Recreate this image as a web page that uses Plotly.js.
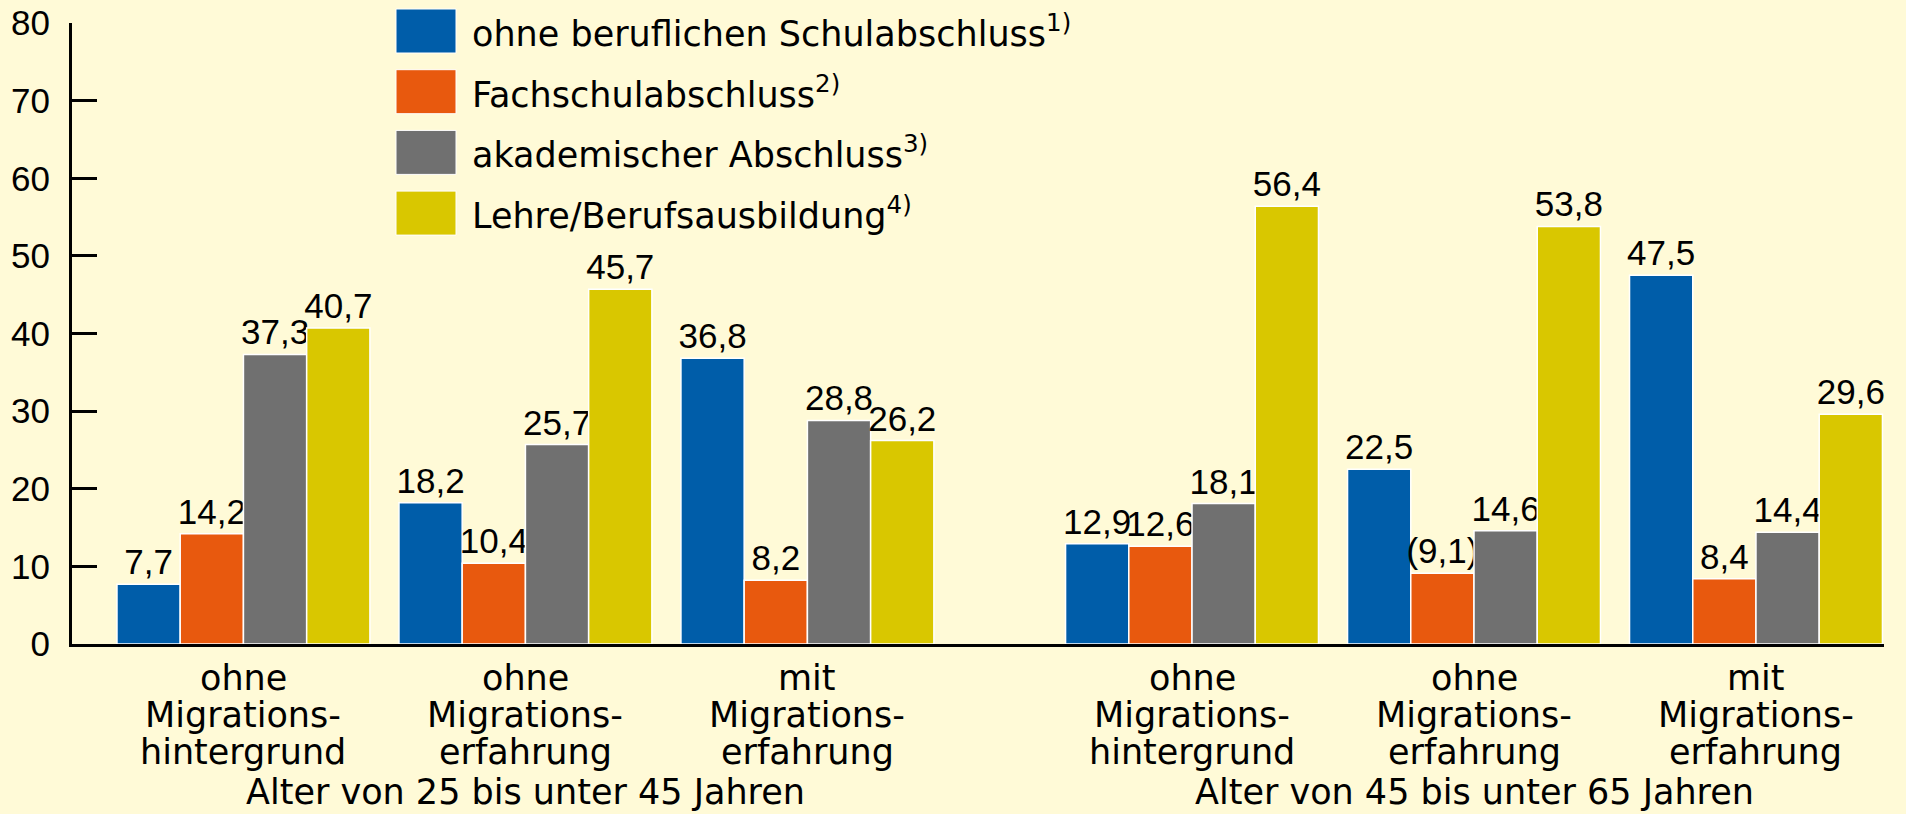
<!DOCTYPE html>
<html>
<head>
<meta charset="utf-8">
<script src="https://cdn.plot.ly/plotly-3.0.1.min.js"></script>
<style>
  html, body { margin: 0; padding: 0; background: #fffad7; }
  #chart { width: 1906px; height: 814px; }
</style>
</head>
<body>
<div id="chart"></div>
<script>
// ---------- data ----------
const categories = ["ohne Migrationshintergrund", "ohne Migrationserfahrung", "mit Migrationserfahrung"];
const categoryLines = [
  ["ohne", "Migrations-", "hintergrund"],
  ["ohne", "Migrations-", "erfahrung"],
  ["mit", "Migrations-", "erfahrung"]
];
const ageGroups = ["Alter von 25 bis unter 45 Jahren", "Alter von 45 bis unter 65 Jahren"];

const seriesNames = ["ohne beruflichen Schulabschluss", "Fachschulabschluss", "akademischer Abschluss", "Lehre/Berufsausbildung"];
const footnotes = ["1)", "2)", "3)", "4)"];
const seriesColors = ["#005da9", "#e8590e", "#707070", "#d9c700"];

const ohneBeruf_25_45   = [7.7, 18.2, 36.8];
const ohneBeruf_45_65   = [12.9, 22.5, 47.5];
const fachschul_25_45   = [14.2, 10.4, 8.2];
const fachschul_45_65   = [12.6, 9.1, 8.4];
const akademisch_25_45  = [37.3, 25.7, 28.8];
const akademisch_45_65  = [18.1, 14.6, 14.4];
const lehre_25_45       = [40.7, 45.7, 26.2];
const lehre_45_65       = [56.4, 53.8, 29.6];
// values shown in parentheses (limited reliability)
const fachschul_45_65_uncertain = [false, true, false];

const yTicks = [0, 10, 20, 30, 40, 50, 60, 70, 80];

// ---------- layout helpers ----------
const W = 1906, H = 814;
const M = { l: 72, r: 22, t: 23, b: 170 };
const plotW = W - M.l - M.r, plotH = H - M.t - M.b;
const px2x = px => (px - M.l) / plotW;
const px2y = py => (H - M.b - py) / plotH;

const TEXT_FONT = "DejaVu Sans, Liberation Sans, Arial, sans-serif";
const NUM_FONT = "Liberation Sans, Arial, Helvetica, sans-serif";

const fmt = (v, paren) => {
  const s = v.toFixed(1).replace(".", ",");
  return paren ? "(" + s + ")" : s;
};

const seriesData = [
  [ohneBeruf_25_45, ohneBeruf_45_65, null],
  [fachschul_25_45, fachschul_45_65, fachschul_45_65_uncertain],
  [akademisch_25_45, akademisch_45_65, null],
  [lehre_25_45, lehre_45_65, null]
];

const traces = [];
seriesData.forEach((s, k) => {
  [0, 1].forEach(g => {
    const vals = s[g];
    const flags = (g === 1 && s[2]) ? s[2] : vals.map(() => false);
    traces.push({
      type: "bar",
      name: seriesNames[k],
      x: categories,
      y: vals,
      xaxis: g === 0 ? "x" : "x2",
      yaxis: "y",
      text: vals.map((v, i) => fmt(v, flags[i])),
      textposition: "outside",
      constraintext: "none",
      cliponaxis: false,
      textfont: { family: NUM_FONT, size: 35, color: "#000" },
      marker: { color: seriesColors[k], line: { color: "#ffffff", width: 1.5 } },
      showlegend: false,
      hoverinfo: "x+y"
    });
  });
});

// ---------- annotations: category labels ----------
const annotations = [];
const lineShifts = [-11.5, -48.5, -85.5];
["x", "x2"].forEach((ax, g) => {
  categories.forEach((c, i) => {
    categoryLines[i].forEach((ln, j) => {
      annotations.push({
        xref: ax, x: c, yref: "paper", y: 0, yanchor: "top", xanchor: "center",
        yshift: lineShifts[j], text: ln, showarrow: false,
        font: { family: TEXT_FONT, size: 35, color: "#000" }
      });
    });
  });
  annotations.push({
    xref: ax, x: categories[1], yref: "paper", y: 0, yanchor: "top", xanchor: "center",
    yshift: -127, borderpad: 0, text: ageGroups[g], showarrow: false,
    font: { family: TEXT_FONT, size: 35, color: "#000" }
  });
});

// ---------- custom legend ----------
const shapes = [];
const legX0 = 396, legX1 = 456, legTop = 9, legH = 44, legPitch = 60.7, legTextX = 470;
seriesNames.forEach((n, k) => {
  const top = legTop + k * legPitch;
  shapes.push({
    type: "rect", xref: "paper", yref: "paper",
    x0: px2x(legX0), x1: px2x(legX1), y0: px2y(top + legH), y1: px2y(top),
    fillcolor: seriesColors[k], line: { color: "#ffffff", width: 1 }
  });
  annotations.push({
    xref: "paper", yref: "paper", x: px2x(legTextX), y: px2y(top + legH / 2),
    xanchor: "left", yanchor: "middle", showarrow: false,
    text: n + "<sup>" + footnotes[k] + "</sup>",
    font: { family: TEXT_FONT, size: 35, color: "#000" }
  });
});

const split = px2x(1000);
const layout = {
  width: W, height: H,
  margin: M,
  paper_bgcolor: "#fffad7",
  plot_bgcolor: "#fffad7",
  barmode: "group",
  bargap: 0.103,
  bargroupgap: 0,
  showlegend: false,
  xaxis: {
    domain: [0, split], anchor: "y", type: "category",
    range: [-0.608, 2.683],
    showticklabels: false, ticks: "", showgrid: false, zeroline: false,
    showline: true, linecolor: "#000", linewidth: 3, fixedrange: true
  },
  xaxis2: {
    domain: [split, 1], anchor: "y", type: "category",
    range: [-0.681, 2.454],
    showticklabels: false, ticks: "", showgrid: false, zeroline: false,
    showline: true, linecolor: "#000", linewidth: 3, fixedrange: true
  },
  yaxis: {
    range: [0, 80], tickvals: yTicks, ticktext: yTicks.map(String),
    ticks: "inside", ticklen: 25, tickwidth: 3, tickcolor: "#000",
    showline: true, linecolor: "#000", linewidth: 3,
    showgrid: false, zeroline: false, ticklabelstandoff: 12,
    tickfont: { family: NUM_FONT, size: 35, color: "#000" }, fixedrange: true
  },
  shapes: shapes,
  annotations: annotations
};

Plotly.newPlot("chart", traces, layout, { displayModeBar: false, staticPlot: true });
</script>
</body>
</html>
